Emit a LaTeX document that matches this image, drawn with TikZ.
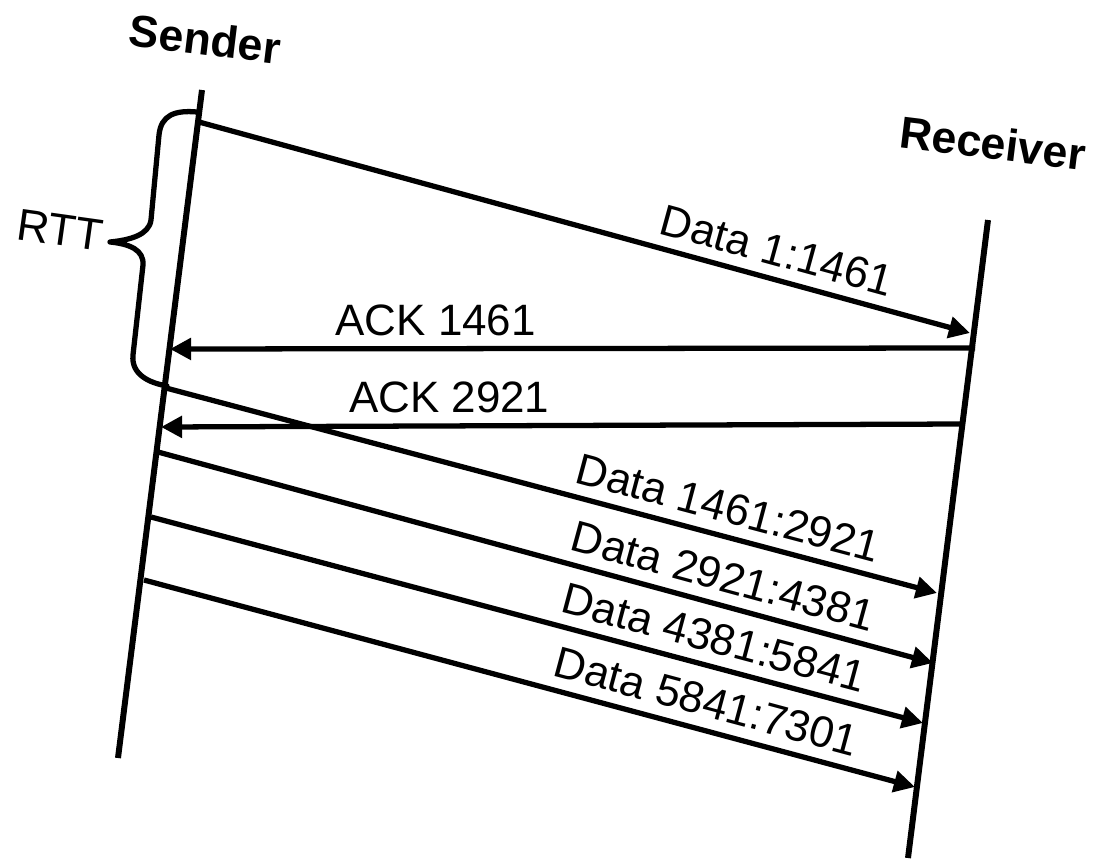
\documentclass[tikz,border=0pt]{standalone}
\usepackage{fontspec}
\setmainfont{Liberation Sans}
\usetikzlibrary{arrows.meta}

\begin{document}
\begin{tikzpicture}[
  x=0.02cm, y=-0.02cm,
  actor/.style={font=\fontsize{25.5}{30}\selectfont\bfseries, inner sep=0pt},
  lifeline/.style={line width=3.4pt},
  arrow/.style={-{Triangle[length=12pt, width=12pt]}, line width=3pt},
  msglabel/.style={font=\fontsize{25}{30}\selectfont, inner sep=0pt, above=6pt},
  brace/.style={line width=3pt, line join=round, line cap=round}
]
\useasboundingbox (0,0) rectangle (1099,862);

% actors
\node[actor, rotate=-7] (sender) at (205,39) {Sender};
\node[actor, rotate=-7] (receiver) at (993,143) {Receiver};

% lifelines
\coordinate (s top) at (202,90);
\coordinate (s bot) at (118,758);
\coordinate (r top) at (988,220);
\coordinate (r bot) at (908,858);
\draw[lifeline] (s top) -- (s bot);
\draw[lifeline] (r top) -- (r bot);

% message end points
\coordinate (s1) at (199,122);  \coordinate (r1) at (970,333);
\coordinate (s2) at (170,349);  \coordinate (r2) at (975,348);
\coordinate (s3) at (161,427);  \coordinate (r3) at (962,424);
\coordinate (s4) at (166,388);  \coordinate (r4) at (937,593);
\coordinate (s5) at (158,452);  \coordinate (r5) at (933,663);
\coordinate (s6) at (151,517);  \coordinate (r6) at (923,723);
\coordinate (s7) at (144,580);  \coordinate (r7) at (915,787);

\draw[arrow] (s1) -- node[msglabel, sloped, pos=0.74] {Data 1:1461} (r1);
\draw[arrow] (r2) -- node[msglabel, pos=0.67] {ACK 1461} (s2);
\draw[arrow] (r3) -- node[msglabel, pos=0.64] {ACK 2921} (s3);
\draw[arrow] (s4) -- node[msglabel, sloped, pos=0.72] {Data 1461:2921} (r4);
\draw[arrow] (s5) -- node[msglabel, sloped, pos=0.72] {Data 2921:4381} (r5);
\draw[arrow] (s6) -- node[msglabel, sloped, pos=0.72] {Data 4381:5841} (r6);
\draw[arrow] (s7) -- node[msglabel, sloped, pos=0.72] {Data 5841:7301} (r7);

% RTT brace
\node[font=\fontsize{25.5}{30}\selectfont, rotate=-8] (rtt) at (60,230) {RTT};
\draw[brace] (197,112) .. controls (175,110) and (161,115) .. (159,135)
  -- (151,220) .. controls (149,235) and (130,240) .. (110,242)
  .. controls (130,244) and (144,250) .. (143,265)
  -- (133,355) .. controls (131,375) and (150,383) .. (167,386);

\end{tikzpicture}
\end{document}
